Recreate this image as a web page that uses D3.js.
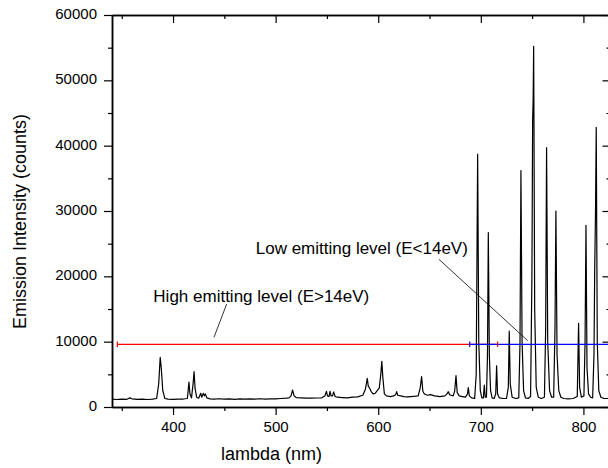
<!DOCTYPE html>
<html><head><meta charset="utf-8">
<script src="https://cdn.jsdelivr.net/npm/d3@7/dist/d3.min.js"></script>
<style>
html,body{margin:0;padding:0;background:#fff;overflow:hidden}
svg text{font-family:"Liberation Sans",Arial,Helvetica,sans-serif;fill:#000}
</style>
</head><body>
<svg id="chart" width="608" height="468"></svg>
<script>
// ---- data ----
const lambdaNm = [
 340.5,345,350,355,358,360,365,370,375,380,384,386,387.5,388.5,390,392,395,400,405,410,
 414,415.5,416.5,418,419.5,420.5,421.5,423,425,427,428,429.5,430.5,431.5,433,436,440,445,450,455,460,465,470,
 475,480,485,490,495,500,505,510,513,515,516.5,518,520,525,530,535,540,545,548,549.5,550.5,552,553,
 554,555.5,556.5,558,560,565,570,575,580,585,587.5,589.3,590.3,591.5,593,595,597,599,601,602.5,
 603.5,604.5,606,608,612,615,617,618,619,622,625,628,632,636,639,641,642.3,643.5,645,648,
 651,655,660,665,667,668.3,669.5,671,673,674.5,675.8,677,679,682,685,687,687.8,688.8,691,694,
 695.5,696.9,698,699.5,701,702.5,703.4,704.3,705.5,706.5,707.3,708.3,709.5,711,713,714.5,715.4,716.3,718,722,
 725,726.8,727.7,728.7,730.5,734,737,738.2,739.1,740.2,741.7,743.5,746,748.5,749.8,750.5,751,751.5,752.5,754,
 756,759,762,763.2,764.1,765.2,767,769,771,772.3,773.2,774.3,776,778,781,785,790,794,795.3,796.3,
 798,800.5,801.6,802.5,803.5,805,807,809,810.3,811,811.8,812.5,813.5,815,817,820,826.4
];
const counts = [
 1200,1150,1200,1180,1400,1250,1180,1200,1150,1200,1300,3500,7600,6000,2500,1300,1200,1180,1200,1220,
 1300,3800,2000,1400,3500,5400,2800,1500,1350,2100,1500,2100,1700,2000,1400,1250,1200,1260,1200,1240,1180,1230,1200,
 1250,1200,1260,1210,1240,1250,1300,1350,1400,1700,2600,1700,1450,1400,1350,1350,1380,1400,1700,2400,1700,1600,2400,
 1700,1700,2300,1600,1500,1450,1400,1500,1550,1800,2700,4400,3200,2900,2400,2000,2100,2500,2900,5000,
 7000,4500,2000,1700,1600,1700,1900,2350,1800,1700,1600,1550,1600,1650,1700,3000,4640,2400,2000,1800,
 1900,1700,1600,1700,2000,2350,1900,1800,1700,2400,4800,2200,1700,1600,1500,2000,2960,1700,1400,1300,
 5000,38700,10000,2500,1400,1400,3370,1500,1500,8000,26700,8000,2500,1400,1300,2000,6300,2000,1400,1300,
 1300,3000,11600,3500,1500,1300,1400,10000,36200,10000,2500,1400,1300,1600,20000,44000,47000,55200,15000,3000,
 1500,1300,1500,12000,39700,10000,2500,1500,1500,12000,30000,8000,2500,1500,1300,1250,1300,1600,12800,3000,
 1500,1700,10000,27800,6000,2000,1500,1400,8000,21000,30000,42800,10000,2500,1500,1300,1300
];
const xTicks = [400, 500, 600, 700, 800];
const xMinorTicks = [350, 450, 550, 650, 750];
const yTicks = [0, 10000, 20000, 30000, 40000, 50000, 60000];
const yMinorTicks = [5000, 15000, 25000, 35000, 45000, 55000];
const levelValue = [9600];
const highLevelRange = [345.7, 716.4];
const lowLevelRange = [689.2, 840];
const labels = ["High emitting level (E>14eV)", "Low emitting level (E<14eV)"];

// ---- layout ----
const L = 112, R = 610.5, T = 15, B = 407;
const svg = d3.select("#chart");
const x = d3.scaleLinear().domain([340.5, 826.4]).range([L, R]);
const y = d3.scaleLinear().domain([0, 60000]).range([B, T]);

svg.append("defs").append("clipPath").attr("id", "clip")
  .append("rect").attr("x", L).attr("y", T).attr("width", R - L).attr("height", B - T);

// spectrum
const pts = lambdaNm.map((l, i) => [l, counts[i]]);
svg.append("path")
  .datum(pts)
  .attr("clip-path", "url(#clip)")
  .attr("fill", "none")
  .attr("stroke", "#000")
  .attr("stroke-width", 1.2)
  .attr("stroke-linejoin", "round")
  .attr("d", d3.line().x(d => x(d[0])).y(d => y(d[1])));

// level bars
const lv = y(levelValue[0]);
function bar(range, color) {
  svg.append("line").attr("clip-path", "url(#clip)")
    .attr("x1", x(range[0])).attr("x2", x(range[1]))
    .attr("y1", lv).attr("y2", lv)
    .attr("stroke", color).attr("stroke-width", 1.3);
}
function cap(v, color) {
  svg.append("line").attr("clip-path", "url(#clip)")
    .attr("x1", x(v)).attr("x2", x(v))
    .attr("y1", lv - 2.8).attr("y2", lv + 2.8)
    .attr("stroke", color).attr("stroke-width", 1.2);
}
bar(highLevelRange, "#ff0000");
bar(lowLevelRange, "#0000ff");
cap(highLevelRange[0], "#ff0000");
cap(highLevelRange[1], "#ff0000");
cap(lowLevelRange[0], "#0000ff");

// axes
function styleAxis(g) {
  g.selectAll("path.domain").attr("stroke", "#000").attr("stroke-width", 1.5);
  g.selectAll(".tick line").attr("stroke", "#000").attr("stroke-width", 1.2);
  g.selectAll("text").attr("font-size", 15).attr("fill", "#000")
    .style("font-family", '"Liberation Sans", Arial, sans-serif');
}
const gB = svg.append("g").attr("transform", `translate(0,${B})`)
  .call(d3.axisBottom(x).tickValues(xTicks).tickSize(8).tickSizeOuter(0).tickPadding(6).tickFormat(d3.format("d")));
styleAxis(gB);
const gBm = svg.append("g").attr("transform", `translate(0,${B})`)
  .call(d3.axisBottom(x).tickValues(xMinorTicks).tickSize(4).tickSizeOuter(0).tickFormat(""));
styleAxis(gBm);

const gL = svg.append("g").attr("transform", `translate(${L},0)`)
  .call(d3.axisLeft(y).tickValues(yTicks).tickSize(8).tickSizeOuter(0).tickPadding(7).tickFormat(d3.format("d")));
styleAxis(gL);
gL.selectAll("text").attr("dy", "0.24em");
const gLm = svg.append("g").attr("transform", `translate(${L},0)`)
  .call(d3.axisLeft(y).tickValues(yMinorTicks).tickSize(4).tickSizeOuter(0).tickFormat(""));
styleAxis(gLm);

const gT = svg.append("g").attr("transform", `translate(0,${T})`)
  .call(d3.axisBottom(x).tickValues(xTicks).tickSize(8).tickSizeOuter(0).tickFormat(""));
styleAxis(gT);
const gTm = svg.append("g").attr("transform", `translate(0,${T})`)
  .call(d3.axisBottom(x).tickValues(xMinorTicks).tickSize(4).tickSizeOuter(0).tickFormat(""));
styleAxis(gTm);

const gR = svg.append("g").attr("transform", `translate(${R},0)`)
  .call(d3.axisLeft(y).tickValues(yTicks).tickSize(8).tickSizeOuter(0).tickFormat(""));
styleAxis(gR);
const gRm = svg.append("g").attr("transform", `translate(${R},0)`)
  .call(d3.axisLeft(y).tickValues(yMinorTicks).tickSize(4).tickSizeOuter(0).tickFormat(""));
styleAxis(gRm);

// axis titles
svg.append("text").attr("x", 271.5).attr("y", 459.5)
  .attr("text-anchor", "middle").attr("font-size", 18).text("lambda (nm)");
svg.append("text").attr("transform", "translate(26,221.5) rotate(-90)")
  .attr("text-anchor", "middle").attr("font-size", 18).text("Emission Intensity (counts)");

// annotations
svg.append("text").attr("x", x(380.8)).attr("y", y(16071))
  .attr("font-size", 17).text(labels[0]);
svg.append("line")
  .attr("x1", x(452.3)).attr("y1", y(15765)).attr("x2", x(439.9)).attr("y2", y(10668))
  .attr("stroke", "#000").attr("stroke-width", 0.8);
svg.append("text").attr("x", x(480.6)).attr("y", y(23418))
  .attr("font-size", 17).text(labels[1]);
svg.append("line")
  .attr("x1", x(659.2)).attr("y1", y(22607)).attr("x2", x(745.7)).attr("y2", y(10148))
  .attr("stroke", "#000").attr("stroke-width", 0.8);
</script>
</body></html>
